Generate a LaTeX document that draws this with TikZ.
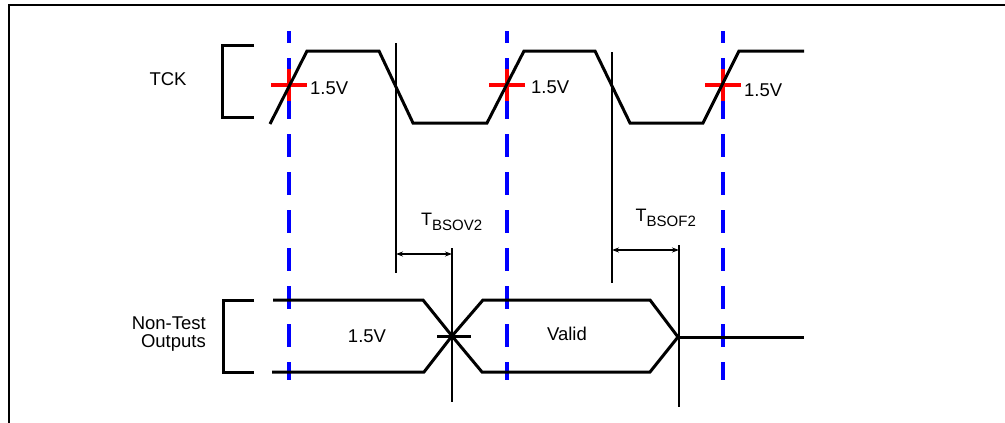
\documentclass[tikz,border=0pt]{standalone}
\usepackage{fontspec}
\setmainfont{Liberation Sans}
\usetikzlibrary{arrows.meta}
\begin{document}
\begin{tikzpicture}[x=1pt,y=-1pt,
  frame/.style={line width=2pt},
  wave/.style={line width=3pt, line join=miter},
  bracket/.style={line width=3pt},
  guide/.style={blue, line width=4pt, dash pattern=on 23pt off 15pt, dash phase=11pt},
  cross/.style={red, line width=4pt},
  thin/.style={line width=1.4pt},
  dim/.style={line width=1.2pt, {Stealth[length=7pt,width=5pt]}-{Stealth[length=7pt,width=5pt]}},
  lbl/.style={inner sep=0pt, font=\fontsize{18.5}{21}\selectfont},
  tlbl/.style={inner sep=0pt, font=\fontsize{18}{21}\selectfont}
  ]
\useasboundingbox (0,0) rectangle (1005,423);
% frame
\draw[frame] (9,423) -- (9,5) -- (1005,5);
% guides
\foreach \gx/\gn in {289/g1, 507/g2, 723/g3} {
  \draw[guide] (\gx,31) coordinate (\gn top) -- (\gx,380) coordinate (\gn bot);
  \draw[cross] (\gx-18,85) -- (\gx+18,85);
  \draw[cross] (\gx,69) -- (\gx,101);
}
% TCK bracket and label
\draw[bracket] (254,45) -- (222,45) -- (222,117) -- (254,117);
\node[lbl] (tck) at (168,79) {TCK};
% TCK waveform
\draw[wave] (270,124) -- (307,51) -- (379,51) -- (413,123) -- (487,123) -- (524,51)
  -- (595,51) -- (630,123) -- (703,123) -- (739,51) -- (804,51);
\node[lbl, anchor=west] (v1) at (310,88) {1.5V};
\node[lbl, anchor=west] (v2) at (531,87) {1.5V};
\node[lbl, anchor=west] (v3) at (744,90) {1.5V};
% thin vertical lines
\draw[thin] (396,43) coordinate (a1) -- (396,273);
\draw[thin] (612,52) coordinate (b1) -- (612,283);
\draw[thin] (452,248) -- (452,402);
\draw[thin] (679,245) -- (679,407);
% dimension arrows
\coordinate (d1l) at (396,254); \coordinate (d1r) at (452,254);
\coordinate (d2l) at (612,250); \coordinate (d2r) at (679,250);
\draw[dim] (d1l) -- (d1r);
\draw[dim] (d2l) -- (d2r);
\node[tlbl] (tov) at (452,222) {T\textsubscript{\fontsize{15}{17}\selectfont BSOV2}};
\node[tlbl] (tof) at (666,218) {T\textsubscript{\fontsize{15}{17}\selectfont BSOF2}};
% Non-test outputs bracket and label
\draw[bracket] (254,300) -- (223,300) -- (223,372) -- (254,372);
\node[lbl, anchor=east, align=right] (nto) at (206,334) {Non-Test\\[-3pt]Outputs};
% bottom waveform
\draw[wave] (273,300) -- (423,300) -- (452,336);
\draw[wave] (272,372) -- (424,372) -- (452,336);
\draw[wave] (452,336) -- (483,300) -- (650,300) -- (678,337) -- (650,372) -- (482,372) -- cycle;
\draw[wave] (678,337) -- (804,337);
\draw[wave] (437,336) -- (471,336);
\node[lbl] (b15) at (367,336) {1.5V};
\node[lbl] (valid) at (567,334) {Valid};
\end{tikzpicture}
\end{document}
